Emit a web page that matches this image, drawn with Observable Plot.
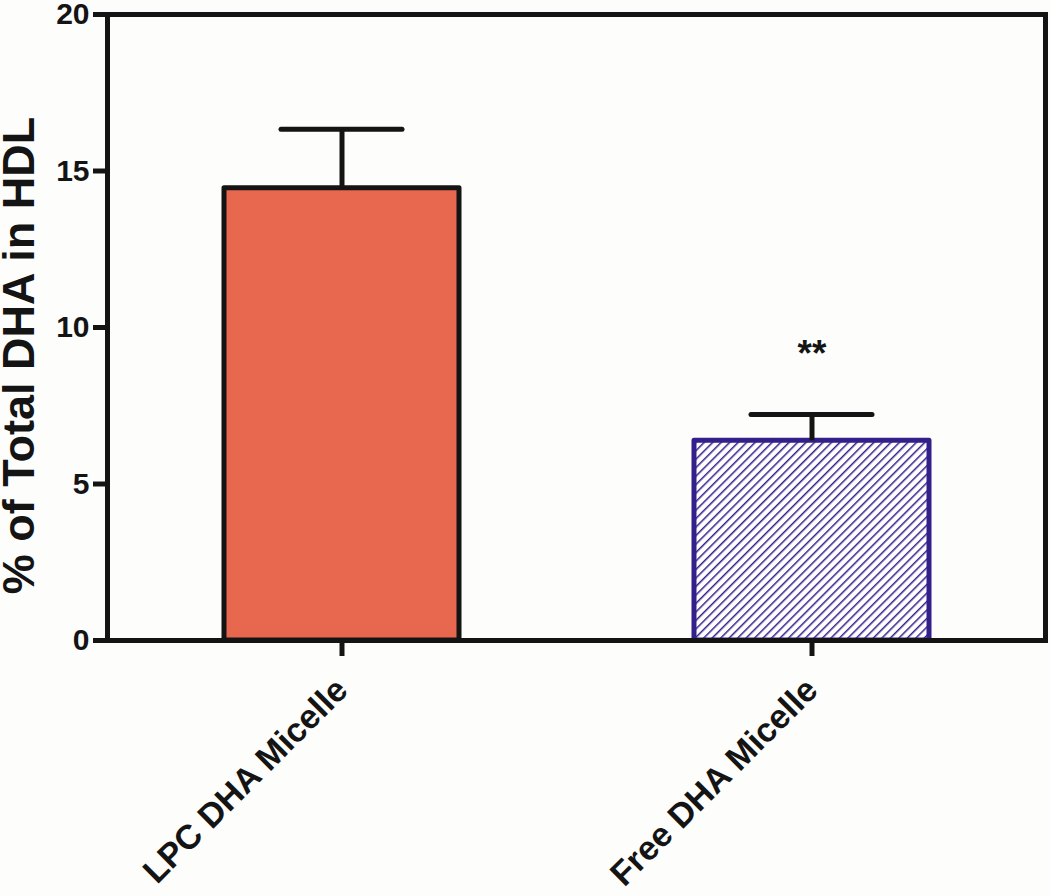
<!DOCTYPE html>
<html>
<head>
<meta charset="utf-8">
<script src="https://cdn.jsdelivr.net/npm/d3@7"></script>
<script src="https://cdn.jsdelivr.net/npm/@observablehq/plot@0.6"></script>
<style>
  body { margin: 0; background: #fdfdfb; }
  #chart svg { font-family: "Liberation Sans", Arial, sans-serif; display: block; }
</style>
</head>
<body>
<div id="chart"></div>
<script>
const categories = ["LPC DHA Micelle", "Free DHA Micelle"];
const means = [14.45, 6.38];
const errorsUp = [1.88, 0.84];
const annotations = ["", "**"];
const yTicks = [0, 5, 10, 15, 20];
const yLabel = "% of Total DHA in HDL";
const fills = ["#E8674F", "url(#hatch)"];
const strokes = ["#141414", "#34208a"];

const data = categories.map((c, i) => ({cat: c, mean: means[i], err: errorsUp[i], note: annotations[i], i}));

const barMarks = data.map(d => Plot.barY([d], {
  x: "cat", y: "mean", fill: fills[d.i], stroke: strokes[d.i], strokeWidth: 5, strokeLinejoin: "round"
}));

const plot = Plot.plot({
  width: 1050,
  height: 896,
  marginTop: 14,
  marginBottom: 256,
  marginLeft: 107,
  marginRight: 5,
  style: {background: "transparent", color: "#141414"},
  x: {domain: categories, paddingInner: 0.5, paddingOuter: 0.246},
  y: {domain: [0, 20]},
  marks: [
    ...barMarks,
    Plot.ruleX(data, {x: "cat", y1: "mean", y2: d => d.mean + d.err, strokeWidth: 5, stroke: "#141414"}),
    Plot.tickY(data, {x: "cat", y: d => d.mean + d.err, strokeWidth: 5, stroke: "#141414", insetLeft: 57, insetRight: 57, strokeLinecap: "round"}),
    Plot.text(data, {x: "cat", y: d => d.mean + d.err, text: "note", dy: -60, fontSize: 37, fontWeight: "bold", fill: "#141414"}),
    Plot.frame({strokeWidth: 5, stroke: "#141414"}),
    Plot.axisY({ticks: yTicks, tickSize: 14, tickPadding: 4, strokeWidth: 5, fontSize: 30, fontWeight: "bold", label: null, stroke: "#141414", fill: "#141414"}),
    Plot.axisX({tickSize: 16, tickPadding: 28, strokeWidth: 5, tickRotate: -45, fontSize: 34, fontWeight: "bold", label: null, stroke: "#141414", fill: "#141414"}),
    Plot.text([yLabel], {frameAnchor: "left", textAnchor: "middle", rotate: -90, dx: -88, dy: 28, text: d => d, fontSize: 45, fontWeight: "bold", fill: "#141414"})
  ]
});

const svg = d3.select(plot);
const defs = svg.insert("defs", ":first-child");
const pat = defs.append("pattern")
  .attr("id", "hatch")
  .attr("patternUnits", "userSpaceOnUse")
  .attr("width", 6)
  .attr("height", 6)
  .attr("patternTransform", "rotate(45)");
pat.append("rect").attr("width", 6).attr("height", 6).attr("fill", "#ffffff");
pat.append("line").attr("x1", 0).attr("y1", 0).attr("x2", 0).attr("y2", 6)
  .attr("stroke", "#34208a").attr("stroke-width", 3);

document.getElementById("chart").appendChild(plot);
</script>
</body>
</html>
